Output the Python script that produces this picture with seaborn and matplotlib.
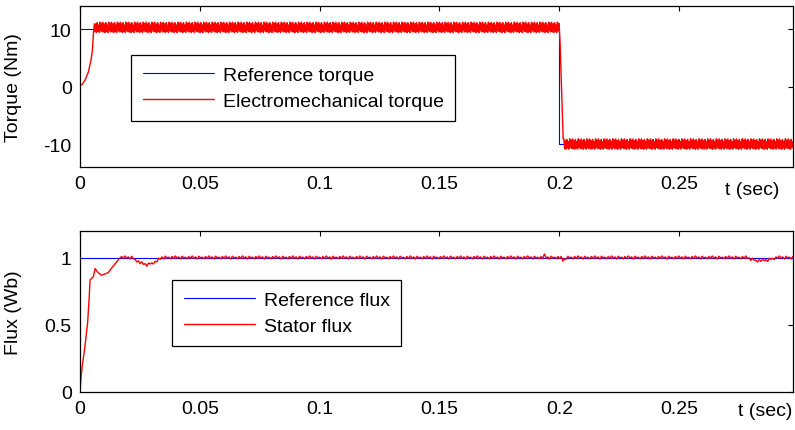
import numpy as np
import pandas as pd
import seaborn as sns
import matplotlib.pyplot as plt

# ---- torque panel ----
tref_t = [0.0, 0.2, 0.2, 0.2975]
tref_v = [10, 10, -10, -10]

rise_t = [0.0, 0.001, 0.0021, 0.0035, 0.0046, 0.0052, 0.0056, 0.006]
rise_v = [0.2, 0.4, 1.1, 2.5, 4.6, 6.3, 9.2, 10.9]
fall_t = [0.2, 0.2003, 0.2016]
fall_v = [10.0, 7.8, -9.1]
# one stretch of the hysteresis chatter around the set point
torque_ripple = [1.2, -0.5, 0.9, -0.6, 1.1, -0.4, 0.7, -0.6, 1.2, -0.3, 1.0, -0.5]
torque_dt = 0.0003

# ---- flux panel ----
fref_t = [0.0, 0.2975]
fref_v = [1, 1]

flux_t = [0.0, 0.0005, 0.001, 0.0021, 0.0032, 0.0038, 0.0042, 0.0056, 0.0063,
          0.0075, 0.009, 0.0105, 0.0118, 0.0135, 0.0153, 0.0167]
flux_v = [0.0, 0.12, 0.2, 0.345, 0.52, 0.69, 0.835, 0.86, 0.92,
          0.89, 0.87, 0.88, 0.89, 0.93, 0.97, 1.0]
# slow envelope after the start-up, ripple added on top
env_t = [0.0167, 0.0216, 0.0251, 0.0279, 0.0314, 0.0342, 0.1935, 0.194, 0.1945,
         0.1995, 0.2012, 0.2018, 0.2025, 0.278, 0.2825, 0.2865, 0.291, 0.2975]
env_v = [1.0, 1.0, 0.96, 0.946, 0.965, 1.0, 1.0, 1.025, 1.0,
         1.0, 0.995, 0.96, 1.0, 1.0, 0.975, 0.98, 1.0, 1.0]
flux_ripple = [0.01, -0.004, 0.014, -0.002, 0.007, -0.009, 0.012, 0.0, 0.005, -0.007]
flux_dt = 0.0007


def chatter(t0, t1, dt, pattern):
    t = np.arange(t0, t1, dt)
    r = np.resize(np.array(pattern), len(t))
    return t, r


# build electromagnetic torque
t_hi, r_hi = chatter(0.006, 0.2, torque_dt, torque_ripple)
t_lo, r_lo = chatter(0.2016 + torque_dt, 0.2975, torque_dt, torque_ripple)
te = pd.DataFrame({
    't': np.concatenate([rise_t, t_hi[1:], fall_t, t_lo]),
    'v': np.concatenate([rise_v, 10 + r_hi[1:], fall_v, -10.3 + r_lo]),
})

# build stator flux
t_ss, r_ss = chatter(0.0167 + flux_dt, 0.2975, flux_dt, flux_ripple)
flux = pd.DataFrame({
    't': np.concatenate([flux_t, t_ss]),
    'v': np.concatenate([flux_v, np.interp(t_ss, env_t, env_v) + r_ss]),
})

sns.set_style('white')
plt.rcParams['font.family'] = ['Liberation Sans', 'DejaVu Sans']
plt.rcParams['text.color'] = 'black'

fig = plt.figure(figsize=(7.95, 4.31), dpi=100)
ax1 = fig.add_axes([0.1006, 0.6102, 0.8969, 0.3735])
ax2 = fig.add_axes([0.1006, 0.0882, 0.8969, 0.3735])

sns.lineplot(x=tref_t, y=tref_v, ax=ax1, color='blue', lw=0.8, sort=False,
             estimator=None, label='Reference torque')
sns.lineplot(data=te, x='t', y='v', ax=ax1, color='red', lw=1.0, sort=False,
             estimator=None, label='Electromechanical torque')

sns.lineplot(x=fref_t, y=fref_v, ax=ax2, color='blue', lw=0.8, sort=False,
             estimator=None, label='Reference flux')
sns.lineplot(data=flux, x='t', y='v', ax=ax2, color='red', lw=1.0, sort=False,
             estimator=None, label='Stator flux')

xt = [0, 0.05, 0.1, 0.15, 0.2, 0.25]
xtl = ['0', '0.05', '0.1', '0.15', '0.2', '0.25']

for ax, ylim, yt, ylab in [(ax1, (-14, 14), [-10, 0, 10], 'Torque (Nm)'),
                           (ax2, (0, 1.2), [0, 0.5, 1], 'Flux (Wb)')]:
    ax.set_xlim(0, 0.2975)
    ax.set_ylim(*ylim)
    ax.set_xticks(xt)
    ax.set_xticklabels(xtl)
    ax.set_yticks(yt)
    ax.set_yticklabels([('%g' % v) for v in yt])
    ax.set_xlabel('')
    ax.set_ylabel(ylab, fontsize=14, color='black')
    ax.yaxis.set_label_coords(-0.082, 0.5)
    ax.tick_params(direction='in', length=3.5, width=0.8, top=True, right=True,
                   labelsize=14, pad=6, colors='black')
    for s in ax.spines.values():
        s.set_color('black')
        s.set_linewidth(0.9)
    leg = ax.legend(loc='upper left', bbox_to_anchor=(0.0715 if ax is ax1 else 0.129, 0.696),
                    fontsize=14, frameon=True, fancybox=False, framealpha=1,
                    edgecolor='black', handlelength=3.66, handletextpad=0.46,
                    borderpad=0.6, labelspacing=0.4, borderaxespad=0)
    leg.get_frame().set_linewidth(0.9)

ax1.text(0.943, -0.137, 't (sec)', transform=ax1.transAxes, fontsize=14,
         ha='center', va='center')
ax2.text(0.961, -0.118, 't (sec)', transform=ax2.transAxes, fontsize=14,
         ha='center', va='center')

plt.savefig('out.png', dpi=100)
